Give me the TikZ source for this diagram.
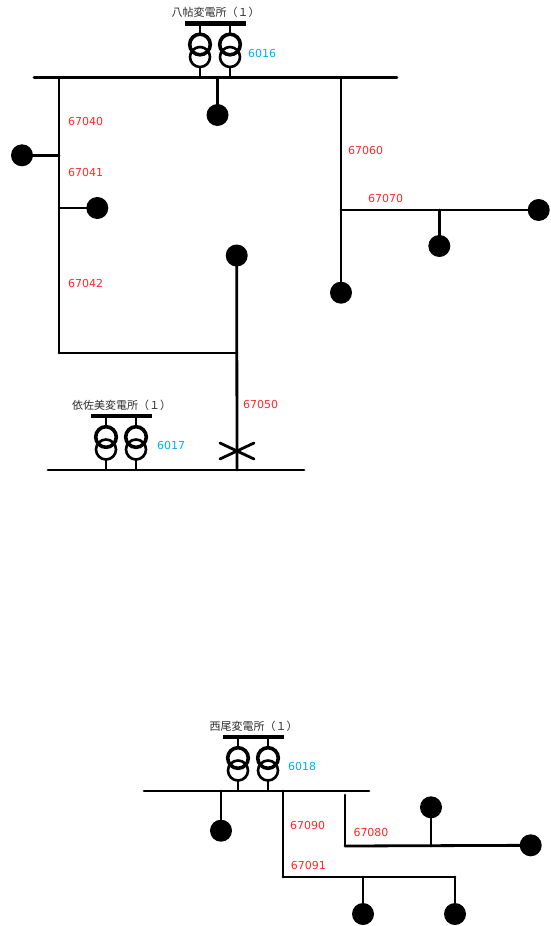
\documentclass[tikz,border=0pt]{standalone}
\usepackage{fontspec}
\setmainfont{DejaVu Sans}
\newfontfamily\cjk{Noto Sans CJK JP}
\usepackage{tkz-euclide}
\definecolor{FeederClr}{RGB}{255,40,40}
\definecolor{StationClr}{RGB}{0,176,240}
\definecolor{TitleClr}{RGB}{45,45,45}

\begin{document}
\begin{tikzpicture}[x=1pt,y=-1pt,
  load/.style={circle,fill=black,inner sep=0pt,minimum size=22pt},
  wire/.style={line width=2.8pt,color=black},
  feeder/.style={font=\fontsize{11}{13}\selectfont,text=FeederClr,anchor=west,inner sep=0pt},
  stno/.style={font=\fontsize{11}{13}\selectfont,text=StationClr,anchor=west,inner sep=0pt},
  title/.style={font=\cjk\fontsize{11}{13}\selectfont,text=TitleClr,inner sep=0pt}]
\tkzSetUpLine[line width=2.8pt,color=black]
\useasboundingbox (0,0) rectangle (550,926);

% Substations: bar, two transformers, number.
\foreach \x/\y/\t/\n/\lx in {200/23.5/{八帖変電所（１）}/6016/248,
                            106/416/{依佐美変電所（１）}/6017/157,
                            238/737/{西尾変電所（１）}/6018/288}{
  \node[title] (S\n) at (\x+15.5,\y-11) {\t};
  \draw[line width=4.8pt] (\x-15,\y) -- (\x+46,\y);
  \foreach \d in {0,30}{
    \draw[wire] (\x+\d,\y) -- (\x+\d,\y+10);
    \draw[line width=2.6pt] (\x+\d,\y+33.5) circle (10pt);
    \draw[line width=3.6pt] (\x+\d,\y+21) circle (10.3pt);
    \draw[wire] (\x+\d,\y+43.5) -- (\x+\d,\y+54);
  }
  \node[stno] (N\n) at (\lx,\y+29.5) {\n};
}

% Points on the lines.
\tkzDefPoints{34/77.5/Ya,397/77.5/Yb,59/77.5/Yc,217.5/77.5/Yd,341/77.5/Ye}
\tkzDefPoints{59/155.3/Pa,59/208/Pb,59/353/Pc,237/353/Pd,341/210/Pe,439.3/210/Pf}
\tkzDefPoints{48/470/Ia,304/470/Ib,237/470/Ic}
\tkzDefPoints{220/443/Xa,254/459/Xb,220/459/Xc,254/443/Xd}
\tkzDefPoints{144/791/Na,369/791/Nb,221/791/Nc,283/791/Nd,283/877/Ne,455/877/Nf,363/877/Ng}
\tkzDefPoints{345/795/Nh,345/846/Ni,431/846/Nj}

% Loads.
\node[load] (B1) at (217.5,115) {};
\node[load] (B2) at (22,155.3) {};
\node[load] (B3) at (97.3,208) {};
\node[load] (B4) at (236.7,255.5) {};
\node[load] (B5) at (341,292.7) {};
\node[load] (B6) at (538.7,210) {};
\node[load] (B7) at (439.3,246) {};
\node[load] (B8) at (221,830.7) {};
\node[load] (B9) at (363,914) {};
\node[load] (B10) at (455,914) {};
\node[load] (B11) at (431,807.3) {};
\node[load] (B12) at (530.7,845.3) {};

% Buses and feeders.
\tkzDrawSegments[wire](Ya,Yb Ia,Ib Na,Nb)
\tkzDrawSegments[wire](Yd,B1 Yc,Pc Pa,B2 Pb,B3 Pc,Pd B4,Ic)
\tkzDrawSegments[wire](Ye,B5 Pe,B6 Pf,B7)
\tkzDrawSegments[wire](Xa,Xb Xc,Xd)
\tkzDrawSegments[wire](Nc,B8 Nd,Ne Ne,Nf Nf,B10 Ng,B9)
\tkzDrawSegments[wire](Nh,Ni Ni,B12 Nj,B11)

% Feeder numbers.
\node[feeder] (F67040) at (68,121) {67040};
\node[feeder] (F67041) at (68,172.7) {67041};
\node[feeder] (F67042) at (68,283.3) {67042};
\node[feeder] (F67050) at (243,404) {67050};
\node[feeder] (F67060) at (348,150.7) {67060};
\node[feeder] (F67070) at (368,198.3) {67070};
\node[feeder] (F67090) at (290,825) {67090};
\node[feeder] (F67091) at (290.7,865.7) {67091};
\node[feeder] (F67080) at (353.3,832.7) {67080};

\end{tikzpicture}
\end{document}
